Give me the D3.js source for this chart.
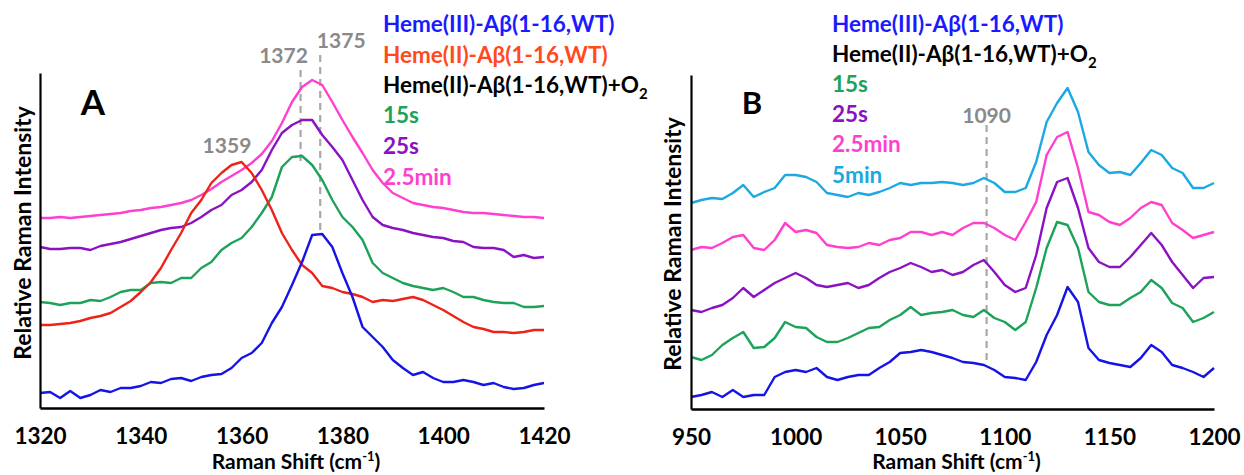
<!DOCTYPE html>
<html>
<head>
<meta charset="utf-8">
<script src="https://cdn.jsdelivr.net/npm/d3@7"></script>
<style>
  body { margin: 0; background: #fff; }
  svg text { font-family: Lato, "Open Sans", sans-serif; font-weight: 700; }
</style>
</head>
<body>
<svg id="chart" width="1244" height="475"></svg>
<script>
const svg = d3.select("#chart");

// ---- panel A data (Raman shift every 2 cm-1) ----
const shiftA = [1320, 1322, 1324, 1326, 1328, 1330, 1332, 1334, 1336, 1338, 1340, 1342, 1344, 1346, 1348, 1350, 1352, 1354, 1356, 1358, 1360, 1362, 1364, 1366, 1368, 1370, 1372, 1374, 1376, 1378, 1380, 1382, 1384, 1386, 1388, 1390, 1392, 1394, 1396, 1398, 1400, 1402, 1404, 1406, 1408, 1410, 1412, 1414, 1416, 1418, 1420];
const a_min25 = [190, 190, 191, 190, 191, 192, 193, 194, 195, 197, 198, 200, 201, 203, 205, 208, 213, 219, 226, 232, 238, 245, 254, 267, 285, 306, 321, 328, 323, 306, 288, 271, 255, 238, 225, 215, 210, 205, 203, 201, 200, 198, 196, 195, 195, 194, 193, 192, 191, 191, 190];
const a_s25 = [161, 159, 159, 160, 160, 158, 162, 164, 166, 169, 172, 175, 178, 180, 181, 185, 191, 198, 203, 213, 218, 226, 238, 258, 275, 283, 288, 288, 273, 261, 248, 228, 208, 191, 183, 180, 178, 175, 173, 171, 170, 167, 166, 161, 160, 160, 158, 151, 153, 150, 151];
const a_s15 = [106, 105, 103, 105, 105, 108, 107, 111, 116, 118, 118, 125, 126, 125, 130, 130, 140, 146, 158, 165, 170, 181, 195, 211, 241, 251, 252, 243, 228, 208, 191, 181, 168, 145, 135, 130, 125, 122, 120, 118, 120, 116, 111, 111, 108, 106, 105, 105, 101, 101, 102];
const a_heme2 = [83, 83, 84, 85, 87, 90, 92, 95, 101, 107, 116, 126, 140, 158, 175, 195, 208, 225, 235, 243, 246, 235, 218, 198, 175, 158, 143, 135, 122, 120, 116, 114, 111, 106, 108, 107, 109, 111, 108, 103, 98, 92, 86, 81, 79, 76, 76, 75, 76, 78, 78];
const a_heme3 = [15, 16, 10, 17, 10, 13, 18, 16, 20, 20, 22, 26, 25, 29, 30, 27, 31, 33, 34, 40, 50, 55, 65, 85, 101, 123, 146, 173, 174, 161, 135, 111, 81, 71, 61, 48, 40, 33, 36, 30, 26, 26, 28, 26, 23, 25, 21, 19, 20, 23, 25];

// ---- panel B data (Raman shift every 5 cm-1) ----
const shiftB = [950, 955, 960, 965, 970, 975, 980, 985, 990, 995, 1000, 1005, 1010, 1015, 1020, 1025, 1030, 1035, 1040, 1045, 1050, 1055, 1060, 1065, 1070, 1075, 1080, 1085, 1090, 1095, 1100, 1105, 1110, 1115, 1120, 1125, 1130, 1135, 1140, 1145, 1150, 1155, 1160, 1165, 1170, 1175, 1180, 1185, 1190, 1195, 1200];
const b_min5 = [206, 209, 211, 210, 216, 224, 212, 217, 221, 234, 234, 232, 227, 216, 214, 212, 216, 214, 217, 221, 226, 224, 226, 226, 227, 226, 224, 226, 231, 226, 217, 217, 221, 247, 287, 306, 321, 297, 257, 244, 236, 237, 234, 246, 259, 254, 241, 236, 221, 221, 226];
const b_min25 = [159, 162, 161, 166, 172, 174, 161, 159, 169, 186, 177, 179, 176, 164, 162, 161, 162, 166, 164, 169, 171, 177, 177, 174, 177, 174, 181, 186, 186, 181, 174, 169, 187, 207, 254, 272, 277, 241, 197, 194, 187, 184, 191, 201, 207, 204, 186, 179, 171, 174, 177];
const b_s25 = [99, 97, 101, 104, 111, 121, 112, 119, 126, 131, 136, 131, 124, 122, 124, 126, 121, 124, 131, 137, 141, 146, 142, 137, 139, 134, 137, 144, 149, 137, 124, 117, 121, 154, 201, 227, 231, 201, 161, 147, 142, 142, 152, 164, 176, 164, 147, 134, 121, 131, 132];
const b_s15 = [52, 49, 54, 64, 71, 77, 61, 62, 71, 87, 82, 81, 72, 67, 67, 71, 76, 81, 82, 89, 94, 102, 94, 96, 97, 99, 94, 92, 99, 91, 87, 79, 87, 121, 161, 187, 184, 161, 117, 107, 104, 104, 111, 117, 129, 121, 106, 101, 87, 91, 97];
const b_heme3 = [12, 14, 17, 12, 19, 12, 14, 14, 32, 37, 39, 37, 41, 32, 29, 32, 34, 34, 41, 47, 56, 57, 59, 57, 54, 51, 47, 46, 44, 39, 32, 31, 29, 47, 74, 94, 122, 107, 61, 49, 46, 44, 42, 51, 64, 57, 44, 41, 37, 32, 41];

// tick labels
const ticksA = [1320, 1340, 1360, 1380, 1400, 1420];
const ticksB = [950, 1000, 1050, 1100, 1150, 1200];

// legend entries
const legendA = ["Heme(III)-Aβ(1-16,WT)", "Heme(II)-Aβ(1-16,WT)", "Heme(II)-Aβ(1-16,WT)+O₂", "15s", "25s", "2.5min"];
const legendB = ["Heme(III)-Aβ(1-16,WT)", "Heme(II)-Aβ(1-16,WT)+O₂", "15s", "25s", "2.5min", "5min"];

// peak markers: position, label, top / bottom of dashed line (intensity units)
const marksA = [
  { pos: 1371.7, label: "1372", top: 338, bottom: 245 },
  { pos: 1375.6, label: "1375", top: 353, bottom: 175 },
];
const labelOnlyA = [{ pos: 1357.1, label: "1359", at: 255 }];
const marksB = [{ pos: 1091.3, label: "1090", top: 284, bottom: 46 }];

// colours
const C = {
  blue: "#1414e6",
  red: "#ee2218",
  green: "#1ca35a",
  purple: "#8a12c2",
  pink: "#ff3fcf",
  cyan: "#1aa9e2",
  grey: "#8a8a8a",
  dash: "#a8a8a8",
};
const legendColA = ["#1a1aff", "#ff4a1e", "#000", C.green, C.purple, C.pink];
const legendColB = ["#1a1aff", "#000", C.green, C.purple, C.pink, C.cyan];

// scales
const xA = d3.scaleLinear().domain([1320, 1420]).range([40, 544]);
const yA = d3.scaleLinear().domain([0, 335]).range([408, 73]);
const xB = d3.scaleLinear().domain([950, 1200]).range([691, 1214]);
const yB = d3.scaleLinear().domain([0, 334]).range([409, 75]);

svg.append("rect").attr("width", 1244).attr("height", 475).attr("fill", "#fff");

function drawAxes(x, y, ticks) {
  svg
    .append("g")
    .attr("transform", `translate(0,${y.range()[0]})`)
    .call(d3.axisBottom(x).tickValues(ticks).tickSize(0).tickSizeOuter(0).tickPadding(20).tickFormat(d3.format("d")))
    .call((g) => g.attr("font-family", null).attr("font-size", null))
    .call((g) => g.select(".domain").attr("stroke", "#000").attr("stroke-width", 2.6))
    .call((g) => g.selectAll("text").attr("fill", "#000").style("font-size", "22.5px"));

  svg
    .append("g")
    .attr("transform", `translate(${x.range()[0]},0)`)
    .call(d3.axisLeft(y).tickValues([]).tickSize(0).tickSizeOuter(0))
    .call((g) => g.select(".domain").attr("stroke", "#000").attr("stroke-width", 2.2));
}

function drawSeries(x, y, shifts, values, color) {
  const line = d3
    .line()
    .x((d, i) => x(shifts[i]))
    .y((d) => y(d));
  svg
    .append("path")
    .datum(values)
    .attr("d", line)
    .attr("fill", "none")
    .attr("stroke", color)
    .attr("stroke-width", 2.4)
    .attr("stroke-linejoin", "round");
}

function drawMarks(x, y, marks) {
  marks.forEach((m) => {
    svg
      .append("line")
      .attr("x1", x(m.pos))
      .attr("x2", x(m.pos))
      .attr("y1", y(m.top))
      .attr("y2", y(m.bottom))
      .attr("stroke", C.dash)
      .attr("stroke-width", 2.2)
      .attr("stroke-dasharray", "7,5");
  });
}

function drawLegend(labels, colors, x0, baselines) {
  labels.forEach((t, i) => {
    const txt = svg
      .append("text")
      .attr("x", x0)
      .attr("y", baselines[i])
      .attr("fill", colors[i])
      .style("font-size", "22.5px");
    if (t.endsWith("₂")) {
      txt.append("tspan").text(t.slice(0, -1));
      txt.append("tspan").attr("dy", 6).style("font-size", "15px").text("2");
    } else {
      txt.text(t);
    }
  });
}

function axisTitles(x, y, cx, cy) {
  const t = svg
    .append("text")
    .attr("x", (x.range()[0] + x.range()[1]) / 2 + 4)
    .attr("y", 469)
    .attr("text-anchor", "middle")
    .style("font-size", "21px")
    .text("Raman Shift (cm");
  t.append("tspan").attr("dy", -8).style("font-size", "13px").text("-1");
  t.append("tspan").attr("dy", 8).text(")");

  svg
    .append("text")
    .attr("transform", `translate(${cx},${cy}) rotate(-90)`)
    .attr("text-anchor", "middle")
    .attr("dominant-baseline", "central")
    .style("font-size", "23px")
    .text("Relative Raman Intensity");
}

// ---- panel A ----
drawMarks(xA, yA, marksA);
drawSeries(xA, yA, shiftA, a_min25, C.pink);
drawSeries(xA, yA, shiftA, a_s25, C.purple);
drawSeries(xA, yA, shiftA, a_s15, C.green);
drawSeries(xA, yA, shiftA, a_heme2, C.red);
drawSeries(xA, yA, shiftA, a_heme3, C.blue);
drawAxes(xA, yA, ticksA);
axisTitles(xA, yA, 22, 233);

marksA.concat(labelOnlyA).forEach((m, i) => {
  svg
    .append("text")
    .attr("x", xA(m.pos) + (i === 0 ? -17 : i === 1 ? 21 : 0))
    .attr("y", i === 2 ? yA(m.at) : yA(m.top) - 7)
    .attr("text-anchor", "middle")
    .attr("fill", C.grey)
    .style("font-size", "21px")
    .text(m.label);
});

svg.append("text").attr("x", 93).attr("y", 115).attr("text-anchor", "middle").style("font-size", "35px").text("A");
drawLegend(legendA, legendColA, 383, [32, 63, 93, 123, 154, 185]);

// ---- panel B ----
drawMarks(xB, yB, marksB);
drawSeries(xB, yB, shiftB, b_min5, C.cyan);
drawSeries(xB, yB, shiftB, b_min25, C.pink);
drawSeries(xB, yB, shiftB, b_s25, C.purple);
drawSeries(xB, yB, shiftB, b_s15, C.green);
drawSeries(xB, yB, shiftB, b_heme3, C.blue);
drawAxes(xB, yB, ticksB);
axisTitles(xB, yB, 672, 244);

marksB.forEach((m) => {
  svg
    .append("text")
    .attr("x", xB(m.pos))
    .attr("y", yB(m.top) - 2)
    .attr("text-anchor", "middle")
    .attr("fill", C.grey)
    .style("font-size", "21px")
    .text(m.label);
});

svg.append("text").attr("x", 752).attr("y", 114).attr("text-anchor", "middle").style("font-size", "31px").text("B");
drawLegend(legendB, legendColB, 832, [32, 62, 92, 122, 152, 183]);
</script>
</body>
</html>
